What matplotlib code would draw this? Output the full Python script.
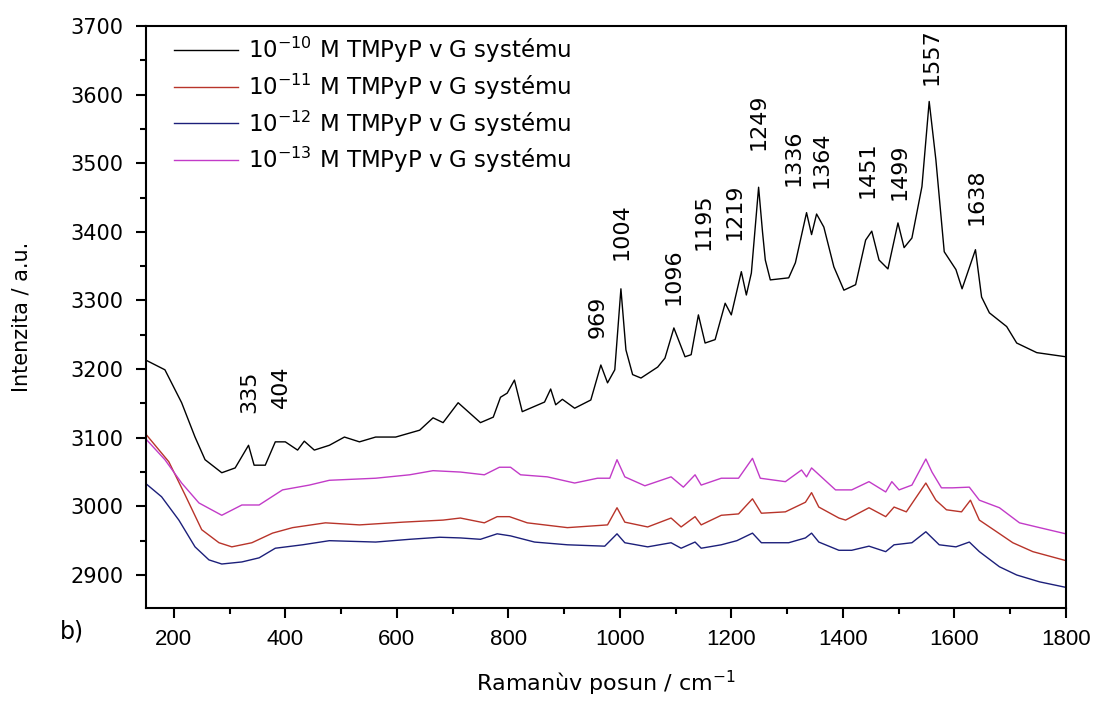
import matplotlib
matplotlib.use('Agg')
import matplotlib.pyplot as plt
from matplotlib.ticker import MultipleLocator

# 10^-10 M (black)
x_10 = [150, 184, 214, 238, 256, 286, 310, 334, 344, 364, 382, 400, 422, 434, 452, 479,
        506, 533, 562, 598, 641, 665, 683, 710, 750, 773, 786, 798, 811, 825, 865, 876,
        885, 897, 919, 948, 966, 978, 991, 1002, 1011, 1023, 1038, 1068, 1081, 1097, 1117,
        1128, 1141, 1153, 1171, 1189, 1200, 1218, 1227, 1236, 1249, 1256, 1261, 1270, 1303,
        1315, 1335, 1344, 1353, 1366, 1384, 1402, 1423, 1441, 1452, 1465, 1481, 1499, 1510,
        1524, 1542, 1555, 1567, 1582, 1603, 1614, 1638, 1649, 1663, 1694, 1712, 1748, 1800]
y_10 = [3213, 3199, 3151, 3101, 3068, 3049, 3056, 3089, 3060, 3060, 3094, 3094, 3082, 3095, 3082, 3089,
        3101, 3094, 3101, 3101, 3111, 3129, 3122, 3151, 3122, 3130, 3159, 3165, 3184, 3138, 3152, 3171,
        3148, 3156, 3143, 3155, 3206, 3180, 3199, 3317, 3228, 3192, 3187, 3203, 3216, 3260, 3218,
        3221, 3279, 3238, 3243, 3296, 3279, 3342, 3308, 3340, 3465, 3400, 3359, 3330, 3333,
        3355, 3428, 3396, 3426, 3407, 3349, 3315, 3323, 3388, 3401, 3359, 3346, 3413, 3377,
        3391, 3466, 3590, 3505, 3371, 3345, 3317, 3374, 3305, 3282, 3262, 3238, 3224, 3218]

# 10^-11 M (red)
x_11 = [150, 191, 220, 250, 281, 304, 340, 377, 413, 472, 533, 611, 683, 714, 757, 780, 802,
        834, 906, 978, 995, 1009, 1050, 1092, 1110, 1135, 1146, 1182, 1213, 1238, 1254, 1297,
        1333, 1344, 1357, 1393, 1405, 1447, 1477, 1492, 1514, 1549, 1567, 1586, 1613, 1629,
        1645, 1676, 1705, 1741, 1800]
y_11 = [3105, 3065, 3017, 2966, 2947, 2941, 2947, 2961, 2969, 2976, 2973, 2977, 2980, 2983, 2976, 2985, 2985,
        2976, 2969, 2973, 2998, 2977, 2970, 2983, 2970, 2985, 2973, 2987, 2989, 3011, 2990, 2992,
        3006, 3020, 2999, 2983, 2980, 2998, 2985, 2999, 2992, 3034, 3009, 2995, 2992, 3009,
        2980, 2963, 2947, 2934, 2921]

# 10^-12 M (blue)
x_12 = [150, 178, 209, 238, 263, 286, 322, 353, 382, 431, 479, 562, 623, 677, 714, 750, 780,
        804, 847, 906, 973, 995, 1009, 1050, 1092, 1110, 1135, 1146, 1182, 1210, 1238, 1254,
        1303, 1333, 1344, 1357, 1393, 1416, 1447, 1477, 1492, 1524, 1549, 1573, 1603, 1627,
        1645, 1681, 1712, 1753, 1800]
y_12 = [3033, 3014, 2980, 2941, 2922, 2916, 2919, 2925, 2939, 2944, 2950, 2948, 2952, 2955, 2954, 2952, 2960,
        2957, 2948, 2944, 2942, 2960, 2947, 2941, 2947, 2939, 2948, 2939, 2944, 2950, 2961, 2947,
        2947, 2954, 2961, 2948, 2936, 2936, 2942, 2934, 2944, 2947, 2963, 2944, 2941, 2948,
        2934, 2912, 2900, 2890, 2882]

# 10^-13 M (magenta)
x_13 = [150, 184, 214, 245, 286, 322, 353, 395, 443, 479, 562, 623, 665, 714, 757, 784, 804,
        822, 870, 919, 960, 982, 995, 1009, 1045, 1092, 1114, 1135, 1146, 1182, 1213, 1238,
        1252, 1297, 1326, 1335, 1344, 1387, 1416, 1447, 1477, 1488, 1501, 1524, 1549, 1560,
        1577, 1597, 1627, 1645, 1681, 1717, 1753, 1800]
y_13 = [3098, 3068, 3034, 3005, 2987, 3002, 3002, 3024, 3031, 3038, 3041, 3046, 3052, 3050, 3046, 3057, 3057,
        3046, 3043, 3034, 3041, 3041, 3068, 3043, 3030, 3043, 3028, 3046, 3031, 3041, 3041, 3070,
        3041, 3036, 3053, 3043, 3056, 3024, 3024, 3036, 3021, 3036, 3024, 3031, 3069, 3050,
        3027, 3027, 3028, 3009, 2998, 2976, 2969, 2960]

series_labels = ['10$^{-10}$ M TMPyP v G systému', '10$^{-11}$ M TMPyP v G systému',
                 '10$^{-12}$ M TMPyP v G systému', '10$^{-13}$ M TMPyP v G systému']
series_colors = ['#000000', '#b8342a', '#1c1f7a', '#c23bc8']

peak_labels = ['335', '404', '969', '1004', '1096', '1195', '1219', '1249',
               '1336', '1364', '1451', '1499', '1557', '1638']
label_x = [335, 393, 960, 1004, 1097, 1150, 1205, 1249, 1312, 1362, 1445, 1501, 1559, 1640]
label_y = [3136, 3143, 3245, 3359, 3294, 3374, 3388, 3520, 3467, 3464, 3450, 3447, 3614, 3410]

fig = plt.figure(figsize=(10.95, 7.02), dpi=100)
ax = fig.add_axes([0.1333, 0.134, 0.84, 0.829])

data = [(x_10, y_10), (x_11, y_11), (x_12, y_12), (x_13, y_13)]
for (xs, ys), lab, col in zip(data, series_labels, series_colors):
    ax.plot(xs, ys, color=col, lw=1.0, label=lab)

for t, px, py in zip(peak_labels, label_x, label_y):
    ax.text(px, py, t, rotation=90, ha='center', va='bottom', fontsize=16)

ax.set_xlim(150, 1800)
ax.set_ylim(2852, 3700)
ax.xaxis.set_major_locator(MultipleLocator(200))
ax.xaxis.set_minor_locator(MultipleLocator(100))
ax.yaxis.set_major_locator(MultipleLocator(100))
ax.yaxis.set_minor_locator(MultipleLocator(50))
ax.tick_params(which='both', direction='out', width=1.5, top=False, right=False)
ax.tick_params(which='major', length=7)
ax.tick_params(which='minor', length=4)
ax.tick_params(axis='y', labelsize=15, pad=9)
ax.tick_params(axis='x', labelsize=16, pad=8)
for lbl in ax.get_xticklabels():
    lbl.set_family('Liberation Sans')
for s in ax.spines.values():
    s.set_linewidth(1.5)

ax.set_ylabel('Intenzita / a.u.', fontsize=15)
ax.yaxis.set_label_coords(-0.124, 0.5)
ax.set_xlabel('Ramanùv posun / cm$^{-1}$', fontsize=16, labelpad=14)

leg = ax.legend(loc='upper left', frameon=False, fontsize=16.5, handlelength=2.8,
                handletextpad=0.45, labelspacing=0.28, borderaxespad=0.0,
                bbox_to_anchor=(0.02, 1.0))

fig.text(0.055, 0.09, 'b)', fontsize=17)

fig.savefig('out.png', dpi=100)
